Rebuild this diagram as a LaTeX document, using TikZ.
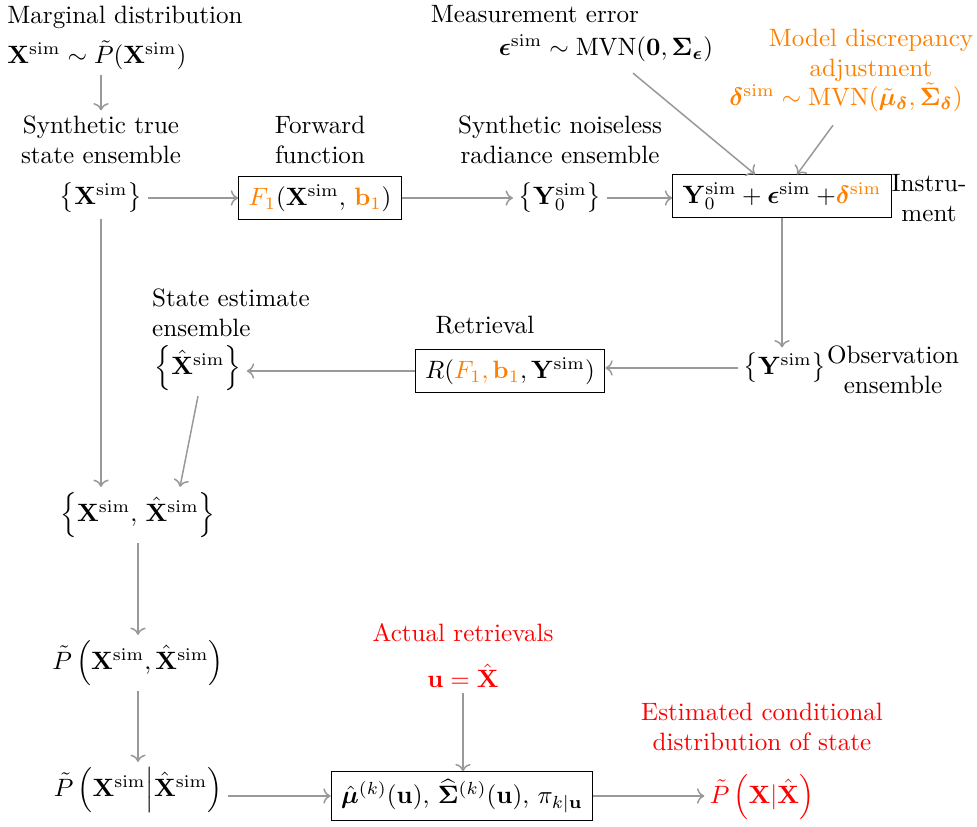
\documentclass[tikz,border=0pt]{standalone}
\usepackage{amsmath}
\usepackage{amssymb}
\usepackage{bm}
\usepackage{xcolor}
\usepackage{tikz}
\usetikzlibrary{arrows.meta,calc,positioning}
\definecolor{discCol}{HTML}{FF8000}
\definecolor{actCol}{HTML}{FF0000}
\definecolor{lineCol}{HTML}{999999}
\newcommand{\sm}{\mathrm{sim}}
\tikzset{
  lbl/.style={align=center, inner sep=2pt},
  opbox/.style={draw, thin, inner xsep=4pt, inner ysep=3pt, align=center},
  flow/.style={->, lineCol, semithick},
}

\begin{document}
\begin{tikzpicture}[x=0.014cm, y=-0.014cm]
  \useasboundingbox (0,0) rectangle (977,827);
  % inputs along the top
  \node[lbl, align=left] (marg) at (125,38)
       {Marginal distribution\\[4pt] $\mathbf{X}^{\sm}\sim\tilde{P}(\mathbf{X}^{\sm})$};
  \node[lbl] (meas) at (535,14){Measurement error};
  \node[lbl] (measf) at (606,48)
       {$\bm{\epsilon}^{\sm}\sim\mathrm{MVN}(\mathbf{0},\bm{\Sigma}_{\bm{\epsilon}})$};
  \node[lbl, text=discCol] (disc) at (871,55){Model discrepancy\\adjustment};
  \node[lbl, text=discCol] (discf) at (846,97)
       {$\bm{\delta}^{\sm}\sim\mathrm{MVN}(\tilde{\bm{\mu}}_{\bm{\delta}},\tilde{\bm{\Sigma}}_{\bm{\delta}})$};
  % forward chain
  \node[lbl] (xslab) at (101,140){Synthetic true\\state ensemble};
  \node[lbl] (xs) at (101,198){$\left\{\mathbf{X}^{\sm}\right\}$};
  \node[lbl] (fwdlab) at (320,140){Forward\\function};
  \node[opbox] (fwd) at (320,198)
       {$\textcolor{discCol}{F_1}(\mathbf{X}^{\sm},\,\textcolor{discCol}{\mathbf{b}_1})$};
  \node[lbl] (y0lab) at (560,140){Synthetic noiseless\\radiance ensemble};
  \node[lbl] (y0) at (560,198){$\left\{\mathbf{Y}_0^{\sm}\right\}$};
  \node[opbox] (inst) at (782,196)
       {$\mathbf{Y}_0^{\sm}+\bm{\epsilon}^{\sm}\mskip\medmuskip{+}\textcolor{discCol}{\bm{\delta}^{\sm}}$};
  \node[lbl] (instlab) at (929,198){Instru-\\ment};
  % retrieval chain
  \node[lbl] (yobs) at (785,368){$\left\{\mathbf{Y}^{\sm}\right\}$};
  \node[lbl] (obslab) at (893,370){Observation\\ensemble};
  \node[lbl] (retlab) at (485,325){Retrieval};
  \node[opbox] (ret) at (510,371)
       {$R(\textcolor{discCol}{F_1,\mathbf{b}_1},\mathbf{Y}^{\sm})$};
  \node[lbl, align=left] (xhlab) at (231,313){State estimate\\ensemble};
  \node[lbl] (xh) at (198,368){$\left\{\hat{\mathbf{X}}^{\sm}\right\}$};
  % joint and conditional
  \node[lbl] (pair) at (138,515)
       {$\left\{\mathbf{X}^{\sm},\,\hat{\mathbf{X}}^{\sm}\right\}$};
  \node[lbl] (joint) at (138,663)
       {$\tilde{P}\left(\mathbf{X}^{\sm},\hat{\mathbf{X}}^{\sm}\right)$};
  \node[lbl] (cond) at (138,790)
       {$\tilde{P}\left(\mathbf{X}^{\sm}\middle|\hat{\mathbf{X}}^{\sm}\right)$};
  \node[opbox] (mix) at (462,796)
       {$\hat{\bm{\mu}}^{(k)}(\mathbf{u}),\,\widehat{\bm{\Sigma}}^{(k)}(\mathbf{u}),\,\pi_{k|\mathbf{u}}$};
  \node[lbl, text=actCol] (act) at (463,633){Actual retrievals};
  \node[lbl, text=actCol] (u) at (463,676){$\mathbf{u}=\hat{\mathbf{X}}$};
  \node[lbl, text=actCol] (est) at (762,727){Estimated conditional\\distribution of state};
  \node[lbl, text=actCol] (post) at (762,797){$\tilde{P}\left(\mathbf{X}|\hat{\mathbf{X}}\right)$};
  % connectors
  \draw[flow] (marg.south -| xslab.north) -- (xslab.north);
  \draw[flow] (xs) -- (fwd);
  \draw[flow] (fwd) -- (y0);
  \draw[flow] (y0.east) -- (y0.east -| inst.west);
  \draw[flow] ($(measf.south)+(27,6)$) -- ($(inst.north)+(-27,0)$);
  \draw[flow] ($(discf.south)+(-13,8)$) -- ($(inst.north)+(15,0)$);
  \draw[flow] (inst.south) -- (inst.south |- yobs.north);
  \draw[flow] (yobs.west) -- (yobs.west -| ret.east);
  \draw[flow] (ret.west) -- (ret.west -| xh.east);
  \draw[flow] (xs.south) -- (xs.south |- pair.north);
  \draw[flow] (xh.south) -- ($(pair.north)+(42,0)$);
  \draw[flow] (pair) -- (joint);
  \draw[flow] (joint) -- (cond);
  \draw[flow] (mix.west -| cond.east) -- (mix.west);
  \draw[flow] (u.south) -- (u.south |- mix.north);
  \draw[flow] (mix.east) -- (mix.east -| post.west);
\end{tikzpicture}
\end{document}
